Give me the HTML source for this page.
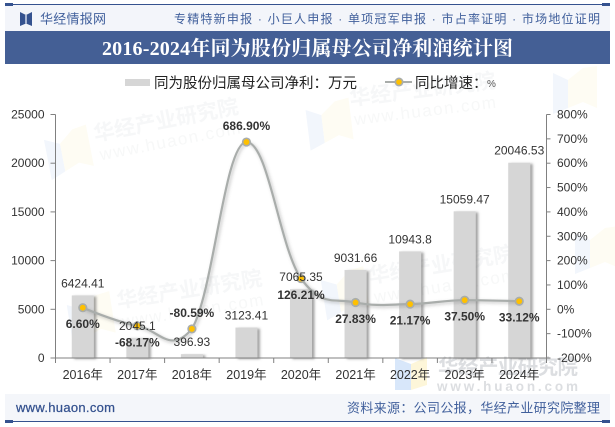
<!DOCTYPE html>
<html lang="zh">
<head>
<meta charset="utf-8">
<title>2016-2024年同为股份归属母公司净利润统计图</title>
<style>
html,body{margin:0;padding:0;background:#fff;}
#chart-root{display:block;width:615px;height:427px;font-family:"Liberation Sans","Noto Sans CJK SC",sans-serif;}
.tc{font-family:"Noto Sans CJK TC",sans-serif;}
</style>
</head>
<body>
<svg id="chart-root" xmlns="http://www.w3.org/2000/svg" width="615" height="427" viewBox="0 0 615 427">
<defs>
<filter id="barShadow" x="-30%" y="-10%" width="170%" height="120%"><feDropShadow dx="2.5" dy="1" stdDeviation="1.2" flood-color="#555" flood-opacity="0.55"/></filter>
<filter id="lineShadow" x="-10%" y="-10%" width="120%" height="120%"><feDropShadow dx="1.5" dy="1.5" stdDeviation="1.5" flood-color="#666" flood-opacity="0.4"/></filter>
<g id="wm-logo"><polygon points="0,5 15,12 15,40 0,46" fill="#f2f6fc"/><polygon points="15,12 30,0 44,-2 44,40 30,34 15,40" fill="#fefcf3"/></g>
</defs>

<rect x="0" y="0" width="615" height="427" fill="#ffffff"/>

<g>
<rect x="5" y="5" width="605" height="26" fill="#f3f5fa"/>
<rect x="5" y="4" width="605" height="1" fill="#35528f"/>
<rect x="5" y="3" width="8" height="3" fill="#35528f"/>
<rect x="602" y="3" width="8" height="3" fill="#35528f"/>
<polygon points="20,12 26,15 32,12 32,26 26,23.5 20,26" fill="#35528f"/>
<rect x="25" y="15" width="2" height="8.5" fill="#a9b7d3"/>
<text x="40" y="23.5" font-size="13" fill="#41609c" textLength="66" lengthAdjust="spacing">华经情报网</text>
<text x="174" y="23" font-size="12" fill="#41609c" textLength="426" lengthAdjust="spacing">专精特新申报 · 小巨人申报 · 单项冠军申报 · 市占率证明 · 市场地位证明</text>
</g>

<rect x="5" y="31" width="605" height="33" fill="#445f95"/>
<text x="102" y="55" font-size="20" font-weight="700" fill="#ffffff" textLength="411" lengthAdjust="spacing" style="font-family:'Liberation Serif','Noto Serif CJK SC',serif">2016-2024年同为股份归属母公司净利润统计图</text>

<g>
<g transform="translate(43,135) rotate(-11)">
<use href="#wm-logo"/>
<text x="50" y="16" font-size="21" font-weight="700" fill="#f6f7f8">华经产业研究院</text>
<text x="52" y="36" font-size="17" fill="#f7f8f8" letter-spacing="1.5">www.huaon.com</text>
</g>
<g transform="translate(305,105) rotate(-7)">
<use href="#wm-logo"/>
<text x="45" y="6" font-size="21" font-weight="700" fill="#f6f7f8">华经产业研究院</text>
<text x="47" y="26" font-size="17" fill="#f7f8f8" letter-spacing="1.5">www.huaon.com</text>
</g>
<g transform="translate(66,300) rotate(-9)">
<use href="#wm-logo"/>
<text x="50" y="16" font-size="21" font-weight="700" fill="#f6f7f8">华经产业研究院</text>
<text x="52" y="36" font-size="17" fill="#f7f8f8" letter-spacing="1.5">www.huaon.com</text>
</g>
<g transform="translate(320,275) rotate(-9)">
<use href="#wm-logo"/>
<text x="48" y="16" font-size="21" font-weight="700" fill="#f6f7f8">华经产业研究院</text>
<text x="50" y="36" font-size="17" fill="#f7f8f8" letter-spacing="1.5">www.huaon.com</text>
</g>
<g transform="translate(575,228)">
<use href="#wm-logo"/>
</g>
<g transform="translate(553,68)">
<use href="#wm-logo"/>
</g>
<g>
<polygon points="395,358 411,364 411,390 395,390" fill="#d8e7fa"/>
<polygon points="411,364 427,357 427,385 411,390" fill="#fdf6d9"/>
<text x="438" y="374" font-size="20.5" font-weight="700" fill="#dcdee1" textLength="140" lengthAdjust="spacing">华经产业研究院</text>
<text x="437" y="391" font-size="13.5" font-weight="700" fill="#dcdee1" textLength="141" lengthAdjust="spacing">www.huaon.com</text>
</g>
</g>

<g>
<rect x="125" y="79" width="25" height="7" fill="#d6d6d6"/>
<text x="154" y="88" font-size="14.5" fill="#222222">同为股份归属母公司净利<tspan class="tc">：</tspan>万元</text>
<line x1="385" y1="82" x2="412" y2="82" stroke="#a9adab" stroke-width="2"/>
<circle cx="399" cy="82" r="4.5" fill="#a9adab"/>
<circle cx="399" cy="82" r="2.8" fill="#ffc000"/>
<text x="415" y="88" font-size="14.5" fill="#222222">同比增速<tspan class="tc">：</tspan></text>
<text x="487" y="87" font-size="10" fill="#555555">%</text>
</g>

<g id="plot"></g>

<g>
<rect x="5" y="394" width="605" height="27" fill="#f3f5fa" fill-opacity="0.92"/>
<rect x="5" y="421" width="605" height="1" fill="#35528f"/>
<rect x="5" y="420" width="8" height="3" fill="#35528f"/>
<rect x="602" y="420" width="8" height="3" fill="#35528f"/>
<text x="16" y="412" font-size="13" fill="#35528f" stroke="#35528f" stroke-width="0.25" textLength="99" lengthAdjust="spacing">www.huaon.com</text>
<text x="347" y="412.500" font-size="13" fill="#41609c" textLength="253" lengthAdjust="spacing">资料来源<tspan class="tc">：</tspan>公司公报，华经产业研究院整理</text>
</g>
</svg>

<script>
const categories = ['2016年','2017年','2018年','2019年','2020年','2021年','2022年','2023年','2024年'];
const profitValues = [6424.41,2045.1,396.93,3123.41,7065.35,9031.66,10943.8,15059.47,20046.53];
const profitLabels = ['6424.41','2045.1','396.93','3123.41','7065.35','9031.66','10943.8','15059.47','20046.53'];
const growthValues = [6.60,-68.17,-80.59,686.90,126.21,27.83,21.17,37.50,33.12];
const growthLabels = ['6.60%','-68.17%','-80.59%','686.90%','126.21%','27.83%','21.17%','37.50%','33.12%'];
const leftTicks = [0,5000,10000,15000,20000,25000];
const rightTicks = [-200,-100,0,100,200,300,400,500,600,700,800];

const NS = 'http://www.w3.org/2000/svg';
const plot = document.getElementById('plot');
const L = 55.5, R = 546.5, T = 114.5, B = 358;
const leftMin = 0, leftMax = 25000, rightMin = -200, rightMax = 800;

function xCenter(i){ return L + (R - L) * (i + 0.5) / categories.length; }
function xEdge(i){ return L + (R - L) * i / categories.length; }
function yLeft(v){ return B - (v - leftMin) / (leftMax - leftMin) * (B - T); }
function yRight(v){ return B - (v - rightMin) / (rightMax - rightMin) * (B - T); }
function make(tag, attrs, parent){
  const el = document.createElementNS(NS, tag);
  for (const k in attrs) el.setAttribute(k, attrs[k]);
  (parent || plot).appendChild(el);
  return el;
}
function splineControls(pts, i){
  const p = pts[i], a = pts[i-1], b = pts[i+1];
  let lx = p.x, ly = p.y, rx = p.x, ry = p.y;
  if (a && b){
    const s = 1.5, d = s + 1, damp = 0.7;
    lx = (s * p.x + a.x) / d; ly = (s * p.y + a.y) / d;
    rx = (s * p.x + b.x) / d; ry = (s * p.y + b.y) / d;
    const c = (ry - ly) * (rx - p.x) / (rx - lx) + p.y - ry;
    ly += c; ry += c;
    // overshoot above a peak is flattened; dips below a trough are softened
    if (ry < b.y && ry < p.y){ ry = Math.min(b.y, p.y); ly = 2 * p.y - ry; }
    else if (ly < a.y && ly < p.y){ ly = Math.min(a.y, p.y); ry = 2 * p.y - ly; }
    const lowL = Math.max(a.y, p.y);
    if (ly > lowL) ly = lowL + damp * (ly - lowL);
    const lowR = Math.max(b.y, p.y);
    if (ry > lowR) ry = lowR + damp * (ry - lowR);
  }
  return { lx, ly, rx, ry };
}

// bars
profitValues.forEach(function(v, i){
  const r = make('rect', { x: xCenter(i) - 11, y: yLeft(v), width: 22, height: B - yLeft(v), fill: '#d6d6d6', filter: 'url(#barShadow)' });
  
  
});

// axes
const leftAxis = make('line', { x1: L, y1: T, x2: L, y2: B, stroke: '#808080', 'stroke-width': 1 });


const rightAxis = make('line', { x1: R, y1: T, x2: R, y2: B, stroke: '#808080', 'stroke-width': 1 });


const xAxis = make('line', { x1: L, y1: B, x2: R, y2: B, stroke: '#808080', 'stroke-width': 1 });



leftTicks.forEach(function(v){
  const y = yLeft(v);
  const t = make('line', { x1: L - 5, y1: y, x2: L, y2: y, stroke: '#808080', 'stroke-width': 1 });
  
  
  const s = make('text', { x: 44.5, y: y + 4, 'font-size': 12, fill: '#333333', 'text-anchor': 'end' });
  
  
  s.textContent = String(v);
});
rightTicks.forEach(function(v){
  const y = yRight(v);
  const t = make('line', { x1: R, y1: y, x2: R + 4, y2: y, stroke: '#808080', 'stroke-width': 1 });
  
  
  const s = make('text', { x: 557, y: y + 4, 'font-size': 12, fill: '#333333' });
  
  
  s.textContent = v + '%';
});
for (let i = 0; i <= categories.length; i++){
  const t = make('line', { x1: xEdge(i), y1: B, x2: xEdge(i), y2: B + 5, stroke: '#808080', 'stroke-width': 1 });
  
  
}
categories.forEach(function(c, i){
  const s = make('text', { x: xCenter(i), y: 379, 'font-size': 12.5, fill: '#333333', 'text-anchor': 'middle' });
  
  
  s.textContent = c;
});

// growth line
const pts = growthValues.map(function(v, i){ return { x: xCenter(i), y: yRight(v) }; });
const ctrl = pts.map(function(p, i){ return splineControls(pts, i); });
let d = 'M' + pts[0].x + ' ' + pts[0].y;
for (let i = 1; i < pts.length; i++){
  d += ' C' + ctrl[i-1].rx + ' ' + ctrl[i-1].ry + ' ' + ctrl[i].lx + ' ' + ctrl[i].ly + ' ' + pts[i].x + ' ' + pts[i].y;
}
const growthLine = make('path', { d: d, fill: 'none', stroke: '#a9adab', 'stroke-width': 2.2, filter: 'url(#lineShadow)' });



pts.forEach(function(p, i){
  const ring = make('circle', { cx: p.x, cy: p.y, r: 4.6, fill: '#a9adab' });
  
  
  const dot = make('circle', { cx: p.x, cy: p.y, r: 2.9, fill: '#ffc000' });
  
  
});

// data labels
profitValues.forEach(function(v, i){
  const s = make('text', { x: xCenter(i), y: yLeft(v) - 8, 'font-size': 12, fill: '#333333', 'text-anchor': 'middle' });
  
  
  s.textContent = profitLabels[i];
});
growthValues.forEach(function(v, i){
  const above = i === 2 || i === 3;
  const s = make('text', { x: xCenter(i), y: yRight(v) + (above ? -12 : 20.5), 'font-size': 12, 'font-weight': 700, fill: '#333333', 'text-anchor': 'middle' });
  
  
  s.textContent = growthLabels[i];
});
</script>
</body>
</html>
